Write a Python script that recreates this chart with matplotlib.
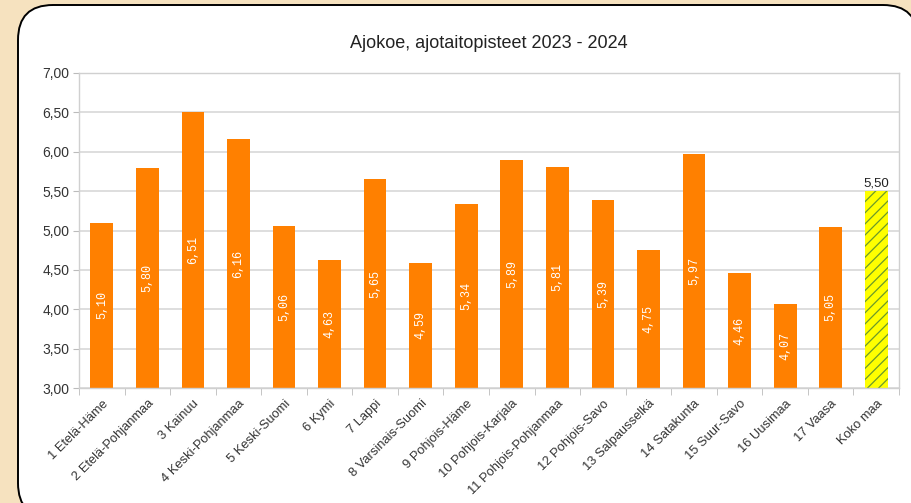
import numpy as np
import matplotlib
matplotlib.use("Agg")
from matplotlib import pyplot as plt
from matplotlib.patches import FancyBboxPatch
from matplotlib.transforms import Affine2D

plt.rcParams['font.family'] = ['Liberation Sans', 'DejaVu Sans']
plt.rcParams['hatch.linewidth'] = 0.9

alueet = ['1 Etelä-Häme', '2 Etelä-Pohjanmaa', '3 Kainuu', '4 Keski-Pohjanmaa',
          '5 Keski-Suomi', '6 Kymi', '7 Lappi', '8 Varsinais-Suomi',
          '9 Pohjois-Häme', '10 Pohjois-Karjala', '11 Pohjois-Pohjanmaa',
          '12 Pohjois-Savo', '13 Salpausselkä', '14 Satakunta', '15 Suur-Savo',
          '16 Uusimaa', '17 Vaasa', 'Koko maa']
pisteet = [5.10, 5.80, 6.51, 6.16, 5.06, 4.63, 5.65, 4.59, 5.34, 5.89,
           5.81, 5.39, 4.75, 5.97, 4.46, 4.07, 5.05, 5.50]
y_ticks = [3.0, 3.5, 4.0, 4.5, 5.0, 5.5, 6.0, 6.5, 7.0]

def fi(v):
    return f"{v:.2f}".replace('.', ',')

W, H = 911.0, 503.0
fig = plt.figure(figsize=(W / 100, H / 100), dpi=100)
fig.patch.set_facecolor('#F6E2BF')

# valkoinen pyöreäkulmainen paneeli (pikseleinä)
px = Affine2D().scale(1 / W, 1 / H) + fig.transFigure
paneeli = FancyBboxPatch((18, -15), 900, 513,
                         boxstyle="round,pad=0,rounding_size=35",
                         transform=px, facecolor='white',
                         edgecolor='black', linewidth=1.4, zorder=-5)
fig.patches.append(paneeli)

ax = fig.add_axes([79 / W, 1 - 388 / H, 820 / W, 315 / H])
ax.set_facecolor('white')

x = np.arange(len(alueet))
varit = ['#FF8000'] * (len(alueet) - 1) + ['#FFFF00']
palkit = ax.bar(x, pisteet, width=0.5, color=varit, zorder=2)
palkit[-1].set_hatch('///')
palkit[-1].set_edgecolor('#6B9A2A')
palkit[-1].set_linewidth(0)

for i, v in enumerate(pisteet[:-1]):
    ax.text(i, (3.0 + v) / 2, fi(v), rotation=90, ha='center', va='center',
            color='white', fontsize=8.5, family=['Liberation Mono', 'DejaVu Sans Mono'],
            zorder=3)
ax.text(x[-1], pisteet[-1] + 0.02, fi(pisteet[-1]), ha='center', va='bottom',
        color='#222222', fontsize=9.5, zorder=3)

ax.set_ylim(3.0, 7.0)
ax.set_xlim(-0.5, len(alueet) - 0.5)
ax.set_yticks(y_ticks)
ax.set_yticklabels([fi(t) for t in y_ticks], fontsize=10, color='#333333')
ax.yaxis.grid(True, color='#d8d8d8', linewidth=1.2, zorder=0)
ax.set_axisbelow(True)

ax.set_xticks(x)
ax.set_xticklabels(alueet, rotation=45, ha='right', rotation_mode='anchor',
                   fontsize=9.3, color='#333333')
ax.set_xticks(np.arange(-0.5, len(alueet)), minor=True)
ax.tick_params(axis='x', which='major', length=0, pad=7)
ax.tick_params(axis='x', which='minor', length=5, color='#bbbbbb')
ax.tick_params(axis='y', length=4, color='#bbbbbb', pad=3)
for s in ax.spines.values():
    s.set_color('#d0d0d0')
    s.set_linewidth(1.0)

fig.text(0.5 * (79 + 899) / W, 1 - 44 / H, 'Ajokoe, ajotaitopisteet 2023 - 2024',
         ha='center', va='center', fontsize=13, color='#222222')

fig.savefig('out.png', dpi=100, facecolor=fig.get_facecolor())
